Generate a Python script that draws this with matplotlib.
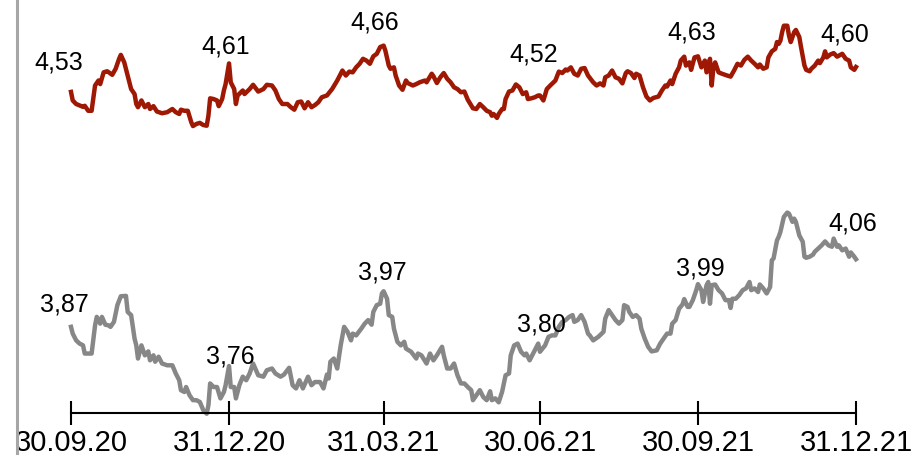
import numpy as np
import matplotlib
matplotlib.use('Agg')
import matplotlib.pyplot as plt
import matplotlib.dates as mdates

# Tagesabstand zum 30.09.2020
start = np.datetime64('2020-09-30')
quarter_days = [0, 92, 182, 273, 365, 457]
tick_labels = ['30.09.20', '31.12.20', '31.03.21', '30.06.21', '30.09.21', '31.12.21']

red_days = [0, 1, 3, 5, 7, 8, 10, 12, 14, 16, 17, 19, 21, 22, 24, 26, 28, 29, 31, 33, 35, 37, 38, 39, 41, 43, 45, 46, 48, 50,
            53, 56, 59, 61, 63, 64, 66, 68, 70, 71, 73, 75, 77, 79, 80, 81, 83, 85, 86, 88, 89, 90, 92,
            93, 95, 96, 97, 100, 101, 104, 106, 109, 112, 114, 117, 119, 121, 123, 126, 128, 130, 132, 134, 136, 138, 140,
            142, 144, 146, 149, 152, 155, 158, 160, 162, 164, 166, 168, 170, 172, 174, 176, 178, 180, 182,
            183, 185, 186, 188, 189, 191, 193, 195, 196, 199, 201, 203, 206, 207, 210, 211, 213, 215, 217, 219, 221, 223,
            225, 227, 229, 231, 233, 234, 236, 238, 240, 242, 244, 245, 246, 248, 249, 251, 252, 253, 255, 257, 259, 261,
            263, 265, 266, 268, 270, 272, 273,
            275, 277, 279, 282, 284, 286, 288, 289, 291, 293, 295, 297, 299, 301, 304, 306, 308, 310, 311, 313, 315, 317,
            319, 321, 323, 324, 326, 328, 329, 331, 333, 335, 337, 339, 342, 344, 346, 347, 349, 350, 352, 354, 355, 357,
            358, 360, 361, 363, 365,
            367, 369, 370, 372, 373, 374, 375, 377, 379, 382, 384, 386, 388, 390, 392, 394, 396, 398, 400, 401, 403, 405,
            406, 408, 410, 411, 412, 413, 414, 415, 417, 418, 419, 421, 422, 424, 425, 427, 428, 430, 431, 433, 435, 436,
            438, 439, 440, 442, 444, 446, 449, 451, 453, 454, 456, 457]
red_vals = [4.53, 4.506, 4.496, 4.492, 4.488, 4.491, 4.477, 4.477, 4.548, 4.562, 4.552, 4.585, 4.588, 4.585, 4.578,
            4.595, 4.623, 4.634, 4.613, 4.576, 4.538, 4.524, 4.496, 4.487, 4.506, 4.487, 4.496, 4.482, 4.490, 4.475,
            4.470, 4.473, 4.482, 4.473, 4.468, 4.480, 4.477, 4.477, 4.445, 4.434, 4.440, 4.443, 4.437, 4.435, 4.463,
            4.512, 4.510, 4.506, 4.490, 4.510, 4.534, 4.552, 4.61,
            4.557, 4.538, 4.496, 4.520, 4.534, 4.524, 4.538, 4.550, 4.531, 4.538, 4.550, 4.548, 4.534, 4.510, 4.496,
            4.496, 4.487, 4.480, 4.501, 4.503, 4.484, 4.501, 4.487, 4.493, 4.501, 4.515, 4.520, 4.538, 4.562, 4.590,
            4.576, 4.587, 4.585, 4.599, 4.609, 4.623, 4.618, 4.609, 4.630, 4.637, 4.656, 4.66,
            4.646, 4.604, 4.595, 4.599, 4.576, 4.548, 4.536, 4.562, 4.555, 4.548, 4.552, 4.557, 4.562, 4.557, 4.581,
            4.574, 4.555, 4.571, 4.583, 4.567, 4.557, 4.543, 4.538, 4.529, 4.531, 4.508, 4.492, 4.484, 4.482, 4.496,
            4.487, 4.477, 4.473, 4.463, 4.468, 4.457, 4.468, 4.482, 4.482, 4.510, 4.531, 4.534, 4.551, 4.543, 4.524,
            4.529, 4.510, 4.512, 4.515, 4.520, 4.52,
            4.506, 4.538, 4.548, 4.562, 4.587, 4.583, 4.593, 4.590, 4.599, 4.581, 4.576, 4.595, 4.597, 4.576, 4.557,
            4.548, 4.554, 4.548, 4.571, 4.576, 4.590, 4.571, 4.567, 4.554, 4.583, 4.588, 4.583, 4.569, 4.581, 4.576,
            4.543, 4.517, 4.506, 4.513, 4.517, 4.534, 4.548, 4.545, 4.562, 4.552, 4.581, 4.599, 4.618, 4.629, 4.604,
            4.613, 4.592, 4.627, 4.63,
            4.599, 4.618, 4.585, 4.623, 4.548, 4.599, 4.613, 4.585, 4.581, 4.576, 4.573, 4.590, 4.609, 4.604, 4.620,
            4.629, 4.618, 4.609, 4.599, 4.607, 4.595, 4.599, 4.627, 4.644, 4.651, 4.670, 4.665, 4.674, 4.698, 4.716,
            4.716, 4.688, 4.670, 4.698, 4.704, 4.684, 4.656, 4.604, 4.592, 4.588, 4.595, 4.604, 4.618, 4.611, 4.627,
            4.644, 4.627, 4.635, 4.639, 4.629, 4.637, 4.623, 4.618, 4.599, 4.592, 4.60]

gray_days = [0, 1, 3, 5, 7, 8, 12, 14, 15, 17, 18, 20, 22, 23, 25, 27, 29, 32, 33, 35, 37, 38, 39, 41, 43, 45, 46, 48,
             49, 51, 53, 56, 59, 61, 63, 64, 66, 67, 69, 71, 73, 75, 77, 79, 80, 81, 83, 85, 87, 89, 90, 92,
             93, 95, 96, 98, 100, 102, 104, 106, 109, 112, 114, 117, 119, 122, 124, 127, 129, 131, 133, 135, 138, 140,
             142, 145, 147, 149, 150, 151, 153, 155, 157, 159, 161, 163, 164, 166, 169, 171, 173, 175, 176, 178, 180,
             181, 182,
             184, 185, 187, 188, 190, 192, 194, 195, 198, 201, 202, 204, 207, 209, 211, 213, 216, 217, 219, 221, 223,
             225, 227, 229, 231, 233, 234, 236, 238, 240, 242, 244, 245, 247, 249, 251, 253, 255, 256, 258, 260, 262,
             264, 265, 267, 269, 272, 273,
             276, 278, 280, 282, 284, 286, 288, 290, 292, 293, 295, 297, 299, 301, 302, 304, 307, 310, 311, 313, 315,
             317, 319, 321, 322, 324, 325, 327, 329, 331, 332, 334, 336, 338, 341, 343, 345, 347, 349, 350, 352, 354,
             356, 357, 359, 360, 362, 364, 365,
             367, 368, 370, 371, 372, 373, 375, 377, 379, 381, 383, 384, 385, 387, 389, 391, 393, 395, 396, 398, 400,
             401, 403, 405, 407, 408, 409, 411, 412, 413, 415, 417, 418, 420, 421, 422, 424, 426, 427, 428, 430, 432,
             433, 435, 437, 439, 441, 443, 444, 446, 447, 449, 451, 453, 454, 456, 457]
gray_vals = [3.87, 3.851, 3.832, 3.823, 3.818, 3.795, 3.795, 3.874, 3.898, 3.879, 3.898, 3.876, 3.874, 3.870, 3.884,
             3.931, 3.956, 3.957, 3.912, 3.903, 3.837, 3.818, 3.781, 3.818, 3.790, 3.801, 3.776, 3.790, 3.772, 3.786,
             3.767, 3.762, 3.762, 3.739, 3.720, 3.692, 3.687, 3.701, 3.678, 3.664, 3.664, 3.659, 3.636, 3.626, 3.650,
             3.711, 3.701, 3.701, 3.669, 3.687, 3.706, 3.76,
             3.701, 3.701, 3.669, 3.706, 3.730, 3.720, 3.739, 3.767, 3.734, 3.730, 3.748, 3.753, 3.739, 3.730, 3.736,
             3.755, 3.706, 3.697, 3.720, 3.697, 3.730, 3.706, 3.715, 3.715, 3.697, 3.736, 3.725, 3.772, 3.781, 3.753,
             3.818, 3.870, 3.856, 3.832, 3.851, 3.846, 3.865, 3.879, 3.889, 3.876, 3.912, 3.931, 3.935, 3.964, 3.97,
             3.949, 3.903, 3.898, 3.865, 3.828, 3.818, 3.828, 3.809, 3.800, 3.781, 3.795, 3.790, 3.767, 3.795, 3.776,
             3.790, 3.814, 3.790, 3.753, 3.753, 3.767, 3.734, 3.711, 3.711, 3.701, 3.692, 3.664, 3.678, 3.692, 3.673,
             3.664, 3.689, 3.664, 3.669, 3.658, 3.688, 3.734, 3.739, 3.790, 3.818, 3.823, 3.800, 3.790, 3.795, 3.776,
             3.795, 3.823, 3.80,
             3.818, 3.842, 3.846, 3.846, 3.870, 3.884, 3.889, 3.898, 3.903, 3.884, 3.889, 3.903, 3.884, 3.851, 3.846,
             3.832, 3.842, 3.856, 3.893, 3.917, 3.903, 3.889, 3.879, 3.889, 3.931, 3.926, 3.912, 3.898, 3.903, 3.893,
             3.865, 3.837, 3.814, 3.801, 3.804, 3.823, 3.837, 3.851, 3.851, 3.879, 3.889, 3.921, 3.933, 3.948, 3.926,
             3.926, 3.945, 3.973, 3.99,
             3.973, 3.940, 3.987, 3.996, 3.935, 3.987, 3.989, 3.973, 3.964, 3.945, 3.945, 3.923, 3.949, 3.949, 3.959,
             3.973, 3.978, 3.996, 3.973, 3.978, 3.968, 3.989, 3.978, 3.964, 3.982, 4.057, 4.062, 4.113, 4.123, 4.137,
             4.179, 4.191, 4.188, 4.165, 4.174, 4.165, 4.127, 4.109, 4.067, 4.064, 4.067, 4.073, 4.081, 4.090, 4.099,
             4.110, 4.099, 4.095, 4.118, 4.095, 4.099, 4.085, 4.090, 4.067, 4.079, 4.067, 4.06]

# Werte zum Quartalsende
red_marks = [4.53, 4.61, 4.66, 4.52, 4.63, 4.60]
gray_marks = [3.87, 3.76, 3.97, 3.80, 3.99, 4.06]


def to_num(days):
    return mdates.date2num(start + np.array(days, dtype='timedelta64[D]'))


fig = plt.figure(figsize=(9.15, 4.56), dpi=100)
ax = fig.add_axes([17 / 915, 0, 898 / 915, 1])

ax.plot(to_num(red_days), red_vals, color='#9E1804', lw=3.2, solid_joinstyle='round')
ax.plot(to_num(gray_days), gray_vals, color='#878787', lw=3.2, solid_joinstyle='round')

qx = to_num(quarter_days)
ax.set_xlim(qx[0] - 31.44, qx[-1] + 34.35)
ax.set_ylim(3.510, 4.791)

for s in ['top', 'right']:
    ax.spines[s].set_visible(False)
ax.spines['left'].set_color('#A6A6A6')
ax.spines['left'].set_linewidth(2.2)
ax.spines['bottom'].set_position(('data', 3.627))
ax.spines['bottom'].set_bounds(qx[0], qx[-1])
ax.spines['bottom'].set_linewidth(1.5)
ax.set_yticks([])
ax.set_xticks(qx)
ax.set_xticklabels(tick_labels, family=['Liberation Sans Narrow', 'Liberation Sans'], fontsize=21)
ax.tick_params(axis='x', direction='inout', length=17, width=1.5, pad=2)

red_off = [(-12, 30), (-3, 18), (-9, 24), (-6, 42), (-6, 25), (-11, 33)]
gray_off = [(-7, 23), (1, 11), (-1, 20), (1, 28), (2, 17), (-3, 37)]
for marks, offs in [(red_marks, red_off), (gray_marks, gray_off)]:
    for x, v, (dx, dy) in zip(qx, marks, offs):
        ax.annotate(f'{v:.2f}'.replace('.', ','), xy=(x, v), xytext=(dx, dy), textcoords='offset pixels',
                    ha='center', va='center', fontsize=18, family='Liberation Sans')

fig.savefig('out.png', dpi=100)
